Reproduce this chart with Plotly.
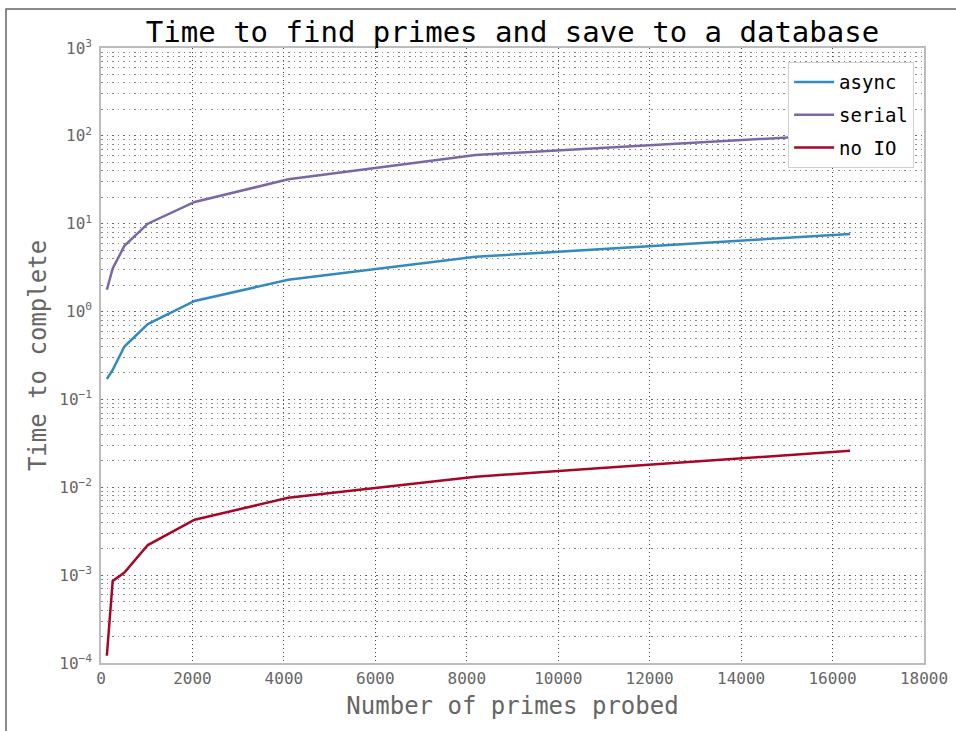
"""
Time to find primes and save to a database (log-scale comparison).
"""

import plotly.graph_objects as go

# Number of primes probed
n_primes = [128, 256, 512, 1024, 2048, 4096, 8192, 16384]

# Time to complete (seconds)
async_times = [0.171, 0.217, 0.40, 0.72, 1.32, 2.3, 4.2, 7.65]
serial_times = [1.77, 3.1, 5.6, 10.0, 17.7, 32.0, 60.5, 105.0]
no_io_times = [1.21e-4, 8.6e-4, 1.07e-3, 2.2e-3, 4.27e-3, 7.6e-3, 0.0132, 0.026]

series = [
    ("async", async_times, "#348ABD"),
    ("serial", serial_times, "#7A68A6"),
    ("no IO", no_io_times, "#A60628"),
]

y_tickvals = [1e-4, 1e-3, 1e-2, 1e-1, 1, 10, 100, 1000]
y_ticktext = ["10<sup>−4</sup>", "10<sup>−3</sup>", "10<sup>−2</sup>", "10<sup>−1</sup>",
              "10<sup>0</sup>", "10<sup>1</sup>", "10<sup>2</sup>", "10<sup>3</sup>"]

MONO = "DejaVu Sans Mono, Liberation Mono, monospace"
GREY = "#666666"

fig = go.Figure()
for name, vals, color in series:
    fig.add_trace(
        go.Scatter(
            x=n_primes,
            y=vals,
            name=name,
            legendgroup=name,
            mode="lines",
            line=dict(color=color, width=2.5),
        )
    )

fig.update_layout(
    width=956,
    height=731,
    paper_bgcolor="white",
    plot_bgcolor="white",
    margin=dict(l=101, r=32, t=48, b=68, autoexpand=False),
    title=dict(
        text="Time to find primes and save to a database",
        x=0.5,
        xref="paper",
        xanchor="center",
        y=0.956,
        yanchor="middle",
        font=dict(family=MONO, size=29, color="black"),
        automargin=False,
    ),
    legend=dict(
        x=0.988,
        y=0.977,
        xanchor="right",
        yanchor="top",
        bgcolor="white",
        bordercolor="#d0d0d0",
        borderwidth=1,
        font=dict(family=MONO, size=19, color="black"),
        tracegroupgap=5,
        itemwidth=40,
    ),
    font=dict(family=MONO),
)

fig.update_xaxes(
    range=[0, 18000],
    dtick=2000,
    tickformat="d",
    showgrid=True,
    gridcolor="#444444",
    griddash="1px,3px",
    gridwidth=1,
    showline=True,
    linecolor="#bcbcbc",
    linewidth=1.5,
    mirror=True,
    zeroline=False,
    ticks="",
    automargin=False,
    tickfont=dict(family=MONO, size=16, color=GREY),
    title=dict(text="Number of primes probed", font=dict(family=MONO, size=24, color=GREY), standoff=10),
)

fig.update_yaxes(
    type="log",
    range=[-4, 3],
    tickvals=y_tickvals,
    ticktext=y_ticktext,
    showgrid=True,
    gridcolor="#666666",
    griddash="1.5px,4px",
    gridwidth=1,
    minor=dict(dtick="D1", showgrid=True, gridcolor="#888888", griddash="1.5px,4px", gridwidth=1, ticks=""),
    showline=True,
    linecolor="#bcbcbc",
    linewidth=1.5,
    mirror=True,
    zeroline=False,
    ticks="",
    ticklabelstandoff=4,
    automargin=False,
    tickfont=dict(family=MONO, size=16, color=GREY),
    title=dict(text="Time to complete", font=dict(family=MONO, size=24, color=GREY), standoff=6),
)

# outer frame of the original notebook output
fig.add_shape(
    type="rect",
    xref="paper",
    yref="paper",
    x0=(6 - 101) / 823,
    x1=1.2,
    y0=-0.3,
    y1=1 + (48 - 9) / 615,
    line=dict(color="#666666", width=1.5),
    layer="above",
)

# drop the browser's default page margin so the figure sits at the top-left corner
fig.write_html(
    "out.html",
    config={"displayModeBar": False},
    post_script="document.body.style.margin='0';",
)
